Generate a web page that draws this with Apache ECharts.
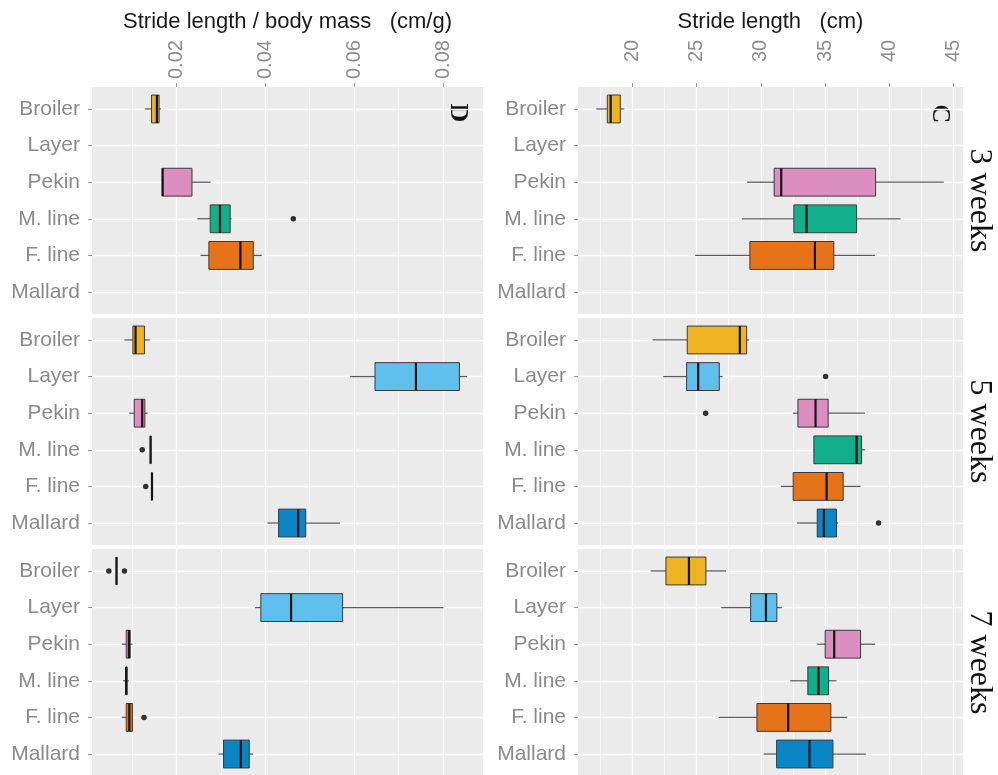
<!DOCTYPE html>
<html>
<head>
<meta charset="utf-8">
<script src="https://cdn.jsdelivr.net/npm/echarts@6/dist/echarts.min.js"></script>
<style>
  html, body { margin: 0; padding: 0; background: #ffffff; }
  #chart { width: 998px; height: 775px; }
</style>
</head>
<body>
<div id="chart"></div>
<script>
// Breeds (top to bottom in every panel) and their fill colours
const categories = ['Broiler', 'Layer', 'Pekin', 'M. line', 'F. line', 'Mallard'];
const breedColors = ['#EEB322', '#5FC0EE', '#DB8EBF', '#12B08A', '#E4731A', '#0A86C4'];
const weeks = ['3 weeks', '5 weeks', '7 weeks'];

// Tick labels of the two value axes
const ratioTicks = [0.02, 0.04, 0.06, 0.08];
const strideTicks = [20, 25, 30, 35, 40, 45];

// Box statistics per breed: [lower whisker, Q1, median, Q3, upper whisker]; null = not measured
// Outliers: [value, breed index]

// Stride length / body mass (cm/g)
const ratio3w = [
  [0.0129, 0.0144, 0.0156, 0.0161, 0.0165],
  null,
  [0.0168, 0.0168, 0.0169, 0.0235, 0.0277],
  [0.0247, 0.0276, 0.0298, 0.0321, 0.0324],
  [0.0254, 0.0273, 0.0344, 0.0373, 0.0392],
  null
];
const ratio3wOut = [[0.0463, 3]];

const ratio5w = [
  [0.0083, 0.0102, 0.0108, 0.0128, 0.0140],
  [0.0591, 0.0647, 0.0739, 0.0837, 0.0854],
  [0.0094, 0.0105, 0.0123, 0.0129, 0.0135],
  [0.0141, 0.0141, 0.0142, 0.0142, 0.0143],
  [0.0144, 0.0144, 0.0145, 0.0145, 0.0146],
  [0.0405, 0.0430, 0.0474, 0.0491, 0.0568]
];
const ratio5wOut = [[0.0123, 3], [0.0131, 4]];

const ratio7w = [
  [0.0065, 0.0065, 0.0065, 0.0066, 0.0066],
  [0.0377, 0.0390, 0.0458, 0.0574, 0.0801],
  [0.0077, 0.0087, 0.0093, 0.0096, 0.0101],
  [0.0080, 0.0086, 0.0087, 0.0089, 0.0093],
  [0.0077, 0.0087, 0.0094, 0.0101, 0.0101],
  [0.0295, 0.0306, 0.0345, 0.0364, 0.0373]
];
const ratio7wOut = [[0.0048, 0], [0.0083, 0], [0.0127, 4]];

// Stride length (cm)
const stride3w = [
  [17.20, 18.06, 18.32, 19.07, 19.38],
  null,
  [28.94, 31.04, 31.59, 38.93, 44.24],
  [28.53, 32.57, 33.56, 37.45, 40.87],
  [24.90, 29.15, 34.21, 35.68, 38.87],
  null
];
const stride3wOut = [];

const stride5w = [
  [21.59, 24.28, 28.37, 28.90, 29.10],
  [22.41, 24.23, 25.13, 26.77, 27.03],
  [32.52, 32.89, 34.26, 35.24, 38.10],
  [34.07, 34.13, 37.45, 37.84, 38.12],
  [31.56, 32.52, 35.12, 36.41, 37.76],
  [32.81, 34.39, 34.91, 35.89, 36.02]
];
const stride5wOut = [[35.04, 1], [25.71, 2], [39.16, 5]];

const stride7w = [
  [21.43, 22.62, 24.41, 25.73, 27.29],
  [26.92, 29.21, 30.40, 31.25, 31.64],
  [34.39, 35.01, 35.71, 37.76, 38.90],
  [32.29, 33.66, 34.49, 35.27, 35.89],
  [26.72, 29.70, 32.13, 35.45, 36.72],
  [30.22, 31.23, 33.79, 35.61, 38.17]
];
const stride7wOut = [];

// ---- layout ----
const colLeft = [92, 578];
const colWidth = [391, 385];
const rowTop = [87, 318, 549];
const rowHeight = 227;
const BOX_FRACTION = 0.76;

// tick labels of one axis share a length, so a per-axis margin lines up their starts
const columns = [
  { min: 0.001, max: 0.089, ticks: ratioTicks, labelMargin: 8, title: 'Stride length / body mass   (cm/g)',
    letter: 'D', letterPos: [458, 113],
    boxes: [ratio3w, ratio5w, ratio7w], outliers: [ratio3wOut, ratio5wOut, ratio7wOut] },
  { min: 15.78, max: 45.73, ticks: strideTicks, labelMargin: 25, title: 'Stride length   (cm)',
    letter: 'C', letterPos: [940, 114],
    boxes: [stride3w, stride5w, stride7w], outliers: [stride3wOut, stride5wOut, stride7wOut] }
];

const sansFont = '"Liberation Sans", Arial, sans-serif';
const serifFont = '"Liberation Serif", "Times New Roman", serif';
const catPositions = categories.map((c, i) => i + 1);

function renderBox(params, api) {
  const pos = api.value(0);
  const pLo = api.coord([api.value(1), pos]);
  const pQ1 = api.coord([api.value(2), pos]);
  const pMd = api.coord([api.value(3), pos]);
  const pQ3 = api.coord([api.value(4), pos]);
  const pHi = api.coord([api.value(5), pos]);
  const h = api.size([0, 1])[1] * BOX_FRACTION;
  const y = pQ1[1];
  const whisker = { stroke: '#5c5c5c', lineWidth: 1.3 };
  return {
    type: 'group',
    children: [
      { type: 'line', shape: { x1: pLo[0], y1: y, x2: pQ1[0], y2: y }, style: whisker },
      { type: 'line', shape: { x1: pQ3[0], y1: y, x2: pHi[0], y2: y }, style: whisker },
      { type: 'rect', shape: { x: pQ1[0], y: y - h / 2, width: pQ3[0] - pQ1[0], height: h },
        style: { fill: api.visual('color'), stroke: '#3a3a3a', lineWidth: 1 } },
      { type: 'line', shape: { x1: pMd[0], y1: y - h / 2, x2: pMd[0], y2: y + h / 2 },
        style: { stroke: '#151515', lineWidth: 2.2 } }
    ]
  };
}

const grid = [], xAxis = [], yAxis = [], series = [];

for (let r = 0; r < 3; r++) {
  for (let c = 0; c < 2; c++) {
    const col = columns[c];
    const idx = grid.length;
    const top = r === 0;
    grid.push({
      left: colLeft[c], top: rowTop[r], width: colWidth[c], height: rowHeight,
      show: true, backgroundColor: '#EBEBEB', borderWidth: 0,
      containLabel: false, outerBoundsMode: 'none'
    });
    xAxis.push({
      type: 'value', gridIndex: idx, position: 'top',
      min: col.min, max: col.max,
      name: top ? col.title : '',
      nameLocation: 'middle', nameGap: 54, nameMoveOverlap: false,
      nameTextStyle: { fontSize: 22, color: '#1a1a1a', fontFamily: sansFont },
      axisLine: { show: false },
      axisTick: { show: top, length: 4, customValues: col.ticks, lineStyle: { color: '#9a9a9a', width: 1 } },
      axisLabel: {
        show: top, customValues: col.ticks, rotate: -90, margin: col.labelMargin,
        fontSize: 20, color: '#8c8c8c', fontFamily: sansFont
      },
      splitLine: { show: true, lineStyle: { color: '#ffffff', width: 1.3 } },
      minorTick: { show: false, splitNumber: 2 },
      minorSplitLine: { show: true, lineStyle: { color: '#ffffff', width: 0.6 } }
    });
    yAxis.push({
      type: 'value', gridIndex: idx, inverse: true, min: 0.4, max: 6.6,
      axisLine: { show: false },
      axisTick: { show: true, length: 4, customValues: catPositions, lineStyle: { color: '#9a9a9a', width: 1 } },
      axisLabel: {
        show: true, customValues: catPositions, margin: 12,
        formatter: v => categories[Math.round(v) - 1] || '',
        fontSize: 21, color: '#8a8a8a', fontFamily: sansFont
      },
      splitLine: { show: true, lineStyle: { color: '#ffffff', width: 1.3 } }
    });

    const boxes = col.boxes[r];
    const boxData = [];
    boxes.forEach((b, k) => {
      if (b) boxData.push({ value: [k + 1].concat(b), itemStyle: { color: breedColors[k] } });
    });
    series.push({
      type: 'custom', xAxisIndex: idx, yAxisIndex: idx,
      renderItem: renderBox,
      encode: { x: [1, 2, 3, 4, 5], y: 0 },
      data: boxData, silent: true
    });
    series.push({
      type: 'scatter', xAxisIndex: idx, yAxisIndex: idx,
      symbolSize: 5.5, itemStyle: { color: '#000000' },
      data: col.outliers[r].map(o => [o[0], o[1] + 1]), silent: true
    });
  }
}

// facet strip labels on the right and the panel letters, both turned a quarter clockwise
const graphic = weeks.map((w, r) => ({
  type: 'text', x: 979, y: rowTop[r] + rowHeight / 2, rotation: -Math.PI / 2,
  style: { text: w, fontSize: 32, fontFamily: serifFont, fill: '#111111', align: 'center', verticalAlign: 'middle' }
}));
columns.forEach(col => {
  graphic.push({
    type: 'text', x: col.letterPos[0], y: col.letterPos[1], rotation: -Math.PI / 2,
    style: { text: col.letter, fontSize: 26, fontWeight: 'bold', fontFamily: serifFont, fill: '#111111', align: 'center', verticalAlign: 'middle' }
  });
});

const chart = echarts.init(document.getElementById('chart'), null, { renderer: 'canvas' });
chart.setOption({
  backgroundColor: '#ffffff',
  animation: false,
  grid, xAxis, yAxis, series, graphic
});
</script>
</body>
</html>
